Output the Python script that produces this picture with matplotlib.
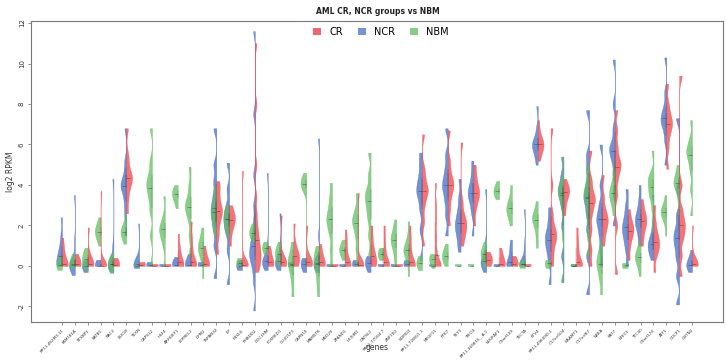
import numpy as np
import matplotlib
matplotlib.use("Agg")
import matplotlib.pyplot as plt
from matplotlib.patches import Patch

genes = ["RP11-462M3.11", "FAM181A", "STXBP1", "SATB1", "RAC2", "BLK18", "TEXN",
         "CAPS12", "HSF4", "ARHGEF1", "LEPREL2", "DPM2", "TSPAN32", "LIF", "FBXL6",
         "RHBDD2", "DOC1HM", "FOXRED1", "GLUD1P3", "CAPN10", "MAMSTR", "MED29",
         "ZFAND1", "HEXIM2", "GATSL2", "RP11-770G4.7", "ZNF700", "NOMO2",
         "RP11-72I8G1.1", "MEGF11", "PTK7", "TET3", "TRIO3", "RP11-369E15__A.1",
         "NDUFAF1", "C9orf139", "TECTA", "ETV4", "RP11-49609D.1", "C17orf104",
         "NAAMT1", "C17orf67", "NBEA", "KAT7", "EFEC1", "TTC40", "C9orf174",
         "ATF1", "CDCP1", "OBTN2"]

# log2 RPKM samples, one list per gene
cr = [
    [0, 0, 0, 0, 0.1, 0.3, 0.6, 0.9, 1.4],
    [0, 0, 0, 0.1, 0.2, 0.4, 0.6],
    [0, 0, 0, 0.1, 0.3, 0.6, 1.9],
    [0, 0, 0, 0, 0, 0.05, 0.2, 3.7],
    [0, 0, 0, 0.1, 0.2, 0.4],
    [2.6, 3.3, 3.8, 4.1, 4.3, 4.4, 4.6, 5.0, 5.5, 6.8],
    [0, 0, 0, 0.05, 0.1, 0.2],
    [0, 0, 0, 0.03, 0.06, 0.1],
    [0, 0, 0, 0.03, 0.06, 0.1],
    [0, 0, 0, 0, 0.2, 0.4, 0.7, 1.0, 1.6],
    [0, 0, 0, 0, 0.2, 0.5, 0.9, 1.4, 2.2],
    [0, 0, 0, 0.1, 0.3, 0.6, 1.0],
    [0.6, 1.5, 2.1, 2.5, 2.7, 2.9, 3.3, 3.8, 4.2],
    [1.0, 1.6, 2.0, 2.2, 2.3, 2.5, 2.7, 3.0],
    [0, 0, 0, 0.05, 0.1, 0.3, 4.7],
    [-0.3, 0, 0.2, 0.4, 0.6, 0.8, 1.0, 1.3, 1.6, 2.0, 2.6, 3.4, 5.0, 8.0, 11.0],
    [0, 0, 0, 0.2, 0.4, 0.7, 1.0],
    [0, 0, 0.1, 0.2, 0.3, 0.5, 2.5],
    [0, 0, 0.2, 0.4, 0.5, 0.6, 0.8, 1.2, 2.1],
    [0, 0, 0.1, 0.2, 0.3, 0.5, 2.0],
    [0, 0, 0, 0.2, 0.4, 0.7, 1.1],
    [0, 0, 0, 0.02, 0.05, 0.1],
    [0, 0, 0, 0, 0.2, 0.5, 0.9, 1.3, 1.8],
    [0, 0, 0, 0.05, 0.1, 0.3, 3.6],
    [0, 0, 0.2, 0.4, 0.6, 0.9, 1.4, 2.0],
    [0, 0, 0, 0, 0.2, 0.5, 0.9, 1.4, 2.0],
    [0, 0, 0, 0.02, 0.05, 0.1],
    [0, 0, 0, 0, 0.2, 0.5, 0.9, 1.4, 2.0],
    [1.0, 2.2, 3.0, 3.5, 3.7, 3.9, 4.3, 4.8, 6.5],
    [0, 0, 0, 0, 0.3, 0.8, 1.5, 2.3, 3.0, 4.1],
    [2.0, 2.8, 3.4, 3.8, 4.0, 4.2, 4.6, 5.2, 6.7],
    [1.0, 1.4, 1.7, 1.9, 2.1, 2.3, 2.6, 3.2, 6.1],
    [2.0, 2.8, 3.2, 3.5, 3.6, 3.8, 4.1, 4.5, 5.0],
    [0, 0.1, 0.2, 0.3, 0.4, 0.5, 0.7],
    [0, 0, 0, 0, 0.2, 0.4, 0.6, 0.9],
    [0, 0, 0, 0.1, 0.2, 0.3, 0.5],
    [0, 0, 0, 0.02, 0.05, 0.1],
    [5.2, 5.5, 5.8, 5.9, 6.0, 6.1, 6.3, 6.6, 7.2],
    [0, 0.5, 1.0, 1.3, 1.5, 1.7, 2.0, 2.6, 4.0, 6.8],
    [2.5, 3.0, 3.4, 3.6, 3.7, 3.8, 4.0, 4.3],
    [0, 0, 0, 0, 0.2, 0.5, 0.9, 1.3, 1.9],
    [0, 0.8, 1.8, 2.6, 3.1, 3.3, 3.6, 4.2, 5.7],
    [1.0, 1.5, 1.9, 2.1, 2.3, 2.5, 2.8, 3.4, 4.5],
    [-0.4, 2.0, 3.5, 4.3, 4.8, 5.0, 5.3, 5.9, 6.7, 7.7],
    [0.3, 1.0, 1.4, 1.7, 1.8, 2.0, 2.3, 2.8],
    [1.0, 1.5, 1.9, 2.1, 2.3, 2.5, 2.8, 3.3],
    [-0.3, 0.5, 0.8, 1.0, 1.2, 1.4, 1.7, 2.2, 3.0],
    [4.8, 5.8, 6.4, 6.8, 7.0, 7.2, 7.5, 8.0, 9.0],
    [-0.5, 0.5, 1.3, 1.7, 2.0, 2.3, 2.8, 4.0, 9.4],
    [0, 0, 0, 0.05, 0.1, 0.2, 0.5, 2.0],
]

ncr = [
    [0, 0, 0.1, 0.3, 0.5, 0.7, 1.0, 1.5, 2.4],
    [-0.45, -0.2, -0.1, 0, 0, 0.1, 0.2, 0.4, 1.2, 3.5],
    [-0.3, -0.1, 0, 0, 0.1, 0.3],
    [0, 0, 0, 0, 0.05, 0.1, 0.3],
    [-0.3, -0.1, 0, 0, 0.1, 0.2, 0.4, 1.0, 4.3],
    [1.5, 2.5, 3.1, 3.6, 3.9, 4.0, 4.2, 4.6, 5.2, 6.8],
    [-0.1, 0, 0, 0.05, 0.1, 0.2, 0.5, 2.1],
    [0, 0, 0, 0.05, 0.1, 0.2],
    [0, 0, 0, 0.03, 0.06, 0.1],
    [0, 0, 0, 0.1, 0.2, 0.45],
    [0, 0, 0, 0.1, 0.3, 0.6],
    [0, 0, 0.05, 0.1, 0.2],
    [-0.6, 1.0, 1.8, 2.3, 2.7, 3.0, 3.5, 4.2, 5.0, 6.8],
    [-0.9, 0.8, 1.6, 2.0, 2.3, 2.6, 3.0, 3.8, 5.1],
    [-0.2, -0.1, 0, 0, 0.1, 0.3],
    [-2.2, -0.8, -0.2, 0.2, 0.4, 0.6, 0.8, 1.0, 1.3, 1.6, 2.2, 3.0, 4.5, 7.5, 11.6],
    [-0.2, 0, 0.1, 0.2, 0.25, 0.3, 0.5, 1.0, 4.6],
    [-0.2, 0, 0.1, 0.2, 0.3, 0.4, 1.0, 2.6],
    [0, 0, 0.05, 0.1, 0.2],
    [-0.3, -0.1, 0, 0.1, 0.2, 0.3, 0.4],
    [-0.3, 0, 0, 0.1, 0.2, 0.4, 1.5, 6.3],
    [0, 0, 0, 0.02, 0.05, 0.1],
    [0, 0, 0, 0.02, 0.05, 0.1],
    [0, 0, 0.05, 0.1, 0.2, 0.3],
    [-0.3, 0, 0.1, 0.2, 0.3, 0.5],
    [0, 0, 0, 0.02, 0.05, 0.1],
    [0, 0, 0, 0.02, 0.05, 0.1],
    [0, 0, 0.05, 0.1, 0.2, 0.3],
    [0.3, 1.8, 2.8, 3.4, 3.7, 4.0, 4.4, 5.0, 5.6],
    [0, 0, 0, 0.02, 0.05, 0.1],
    [1.5, 2.5, 3.2, 3.7, 4.0, 4.3, 4.8, 5.5, 6.8],
    [0.7, 1.2, 1.6, 1.9, 2.1, 2.4, 2.8, 3.4, 4.3],
    [1.5, 2.6, 3.1, 3.4, 3.6, 3.8, 4.1, 4.6, 5.2],
    [-0.3, 0, 0.1, 0.2, 0.3, 0.5, 1.2, 3.8],
    [0, 0, 0, 0.02, 0.05, 0.1],
    [0, 0, 0, 0, 0.2, 0.4, 0.7, 1.0, 1.3],
    [0, 0, 0, 0.05, 0.1, 0.3, 1.0, 2.8],
    [5.0, 5.4, 5.7, 5.9, 6.0, 6.1, 6.3, 6.8, 7.9],
    [-0.9, 0.2, 0.7, 1.0, 1.3, 1.5, 1.8, 2.3, 2.9],
    [-0.8, 0.5, 2.0, 3.0, 3.5, 3.7, 4.0, 4.5, 5.4],
    [0, 0, 0, 0.02, 0.05, 0.1],
    [-1.4, 0.5, 1.8, 2.6, 3.2, 3.5, 4.0, 4.8, 5.5, 7.7],
    [0, 0.8, 1.5, 2.0, 2.3, 2.6, 3.1, 4.0, 6.0],
    [2.0, 3.6, 4.5, 5.2, 5.6, 5.8, 6.1, 6.8, 8.0, 10.2],
    [0, 0.8, 1.3, 1.6, 1.9, 2.1, 2.5, 3.0, 3.8],
    [1.0, 1.5, 1.9, 2.1, 2.3, 2.5, 2.8, 3.3, 4.0],
    [0.3, 0.6, 0.8, 1.0, 1.1, 1.3, 1.6, 2.2, 3.5],
    [5.0, 6.2, 6.8, 7.1, 7.3, 7.5, 7.9, 8.6, 10.3],
    [-1.9, -0.5, 0.4, 1.0, 1.4, 1.8, 2.5, 3.8, 7.3],
    [-0.3, -0.1, 0, 0, 0.1, 0.2, 0.4, 0.8],
]

nbm = [
    [-0.2, -0.05, 0, 0, 0.05, 0.1, 0.2, 0.5],
    [-0.1, 0, 0, 0.1, 0.2, 0.4, 0.6],
    [-0.2, 0, 0.1, 0.3, 0.4, 0.5, 0.7, 0.9],
    [1.0, 1.3, 1.5, 1.6, 1.7, 1.8, 1.9, 2.1, 2.4],
    [-0.35, -0.1, 0, 0.1, 0.2, 0.3, 0.6],
    [1.1, 1.4, 1.6, 1.7, 1.8, 2.0, 2.6],
    [0, 0, 0.02, 0.05, 0.1],
    [0, 1.5, 2.7, 3.3, 3.7, 4.0, 4.2, 4.6, 5.2, 6.8],
    [0, 1.0, 1.4, 1.6, 1.8, 1.9, 2.1, 2.5, 3.45],
    [2.85, 3.2, 3.4, 3.5, 3.6, 3.7, 3.8, 4.0],
    [0.5, 1.5, 2.3, 2.7, 2.9, 3.1, 3.4, 4.0, 4.9],
    [-0.6, 0.2, 0.5, 0.8, 0.9, 1.0, 1.2, 1.5, 1.9],
    [1.5, 2.0, 2.3, 2.6, 2.7, 3.0, 3.4, 4.0],
    [1.5, 1.8, 2.1, 2.3, 2.5, 2.7, 3.0],
    [0, 0, 0.1, 0.2, 0.3, 0.4],
    [1.2, 1.5, 1.6, 1.7, 1.8, 2.1],
    [0.6, 0.8, 0.9, 1.0, 1.2],
    [0, 0.3, 0.5, 0.6, 0.7, 0.9, 1.2],
    [-1.5, -0.8, -0.3, 0, 0.2, 0.4, 0.7, 1.2],
    [0, 3.7, 3.9, 4.0, 4.1, 4.2, 4.4, 4.6],
    [-1.5, -0.9, -0.4, 0, 0.2, 0.4, 0.7, 1.0],
    [0, 0.8, 1.6, 2.0, 2.3, 2.5, 2.9, 3.4, 4.1],
    [0.3, 0.6, 0.7, 0.8, 0.9, 1.0, 1.3],
    [0, 0.8, 1.5, 2.0, 2.2, 2.4, 2.8, 3.6],
    [0.5, 1.5, 2.3, 2.8, 3.2, 3.5, 3.8, 4.5, 5.6],
    [0.3, 0.5, 0.6, 0.7, 0.9],
    [0, 0.5, 0.9, 1.1, 1.3, 1.4, 1.6, 1.9, 2.3],
    [-0.5, 0.2, 0.5, 0.7, 0.8, 0.9, 1.1, 1.5, 2.2],
    [-0.2, 0, 0.1, 0.2, 0.3, 0.5],
    [-0.1, 0.1, 0.3, 0.4, 0.5, 0.6],
    [0, 0.2, 0.4, 0.5, 0.6, 0.8, 1.1],
    [0, 0, 0.02, 0.05, 0.1],
    [0, 0, 0.02, 0.05, 0.1],
    [0, 0.3, 0.5, 0.6, 0.7, 0.9, 1.2],
    [3.3, 3.5, 3.6, 3.7, 3.8, 3.9, 4.2],
    [2.0, 2.4, 2.6, 2.8, 2.9, 3.1, 3.4, 4.0],
    [-0.1, 0, 0.05, 0.1, 0.2, 0.3],
    [0.9, 1.5, 2.0, 2.2, 2.35, 2.5, 2.7, 3.2],
    [-0.1, 0, 0.1, 0.15, 0.2, 0.3],
    [-0.8, 1.5, 2.8, 3.3, 3.6, 3.7, 3.9, 4.2, 5.4],
    [0, 0, 0.02, 0.05, 0.1],
    [0.5, 1.5, 2.3, 3.0, 3.4, 3.6, 3.9, 4.4, 5.0],
    [-1.4, -0.7, -0.3, 0, 0.2, 0.4, 0.7, 1.2],
    [2.5, 3.0, 3.3, 3.5, 3.7, 3.9, 4.3, 5.0],
    [-0.1, 0, 0.05, 0.1, 0.15],
    [-0.5, 0, 0.2, 0.4, 0.5, 0.6, 0.8, 1.2],
    [1.8, 2.8, 3.4, 3.6, 3.9, 4.2, 4.3, 4.6, 5.7],
    [1.5, 2.2, 2.5, 2.6, 2.7, 2.8, 3.0, 3.5],
    [2.5, 3.3, 3.8, 4.0, 4.1, 4.2, 4.4, 4.7, 5.0],
    [2.5, 3.8, 4.7, 5.2, 5.5, 5.7, 5.9, 6.3, 7.2],
]

groups = ["CR", "NCR", "NBM"]
colors = {"CR": "#f0444c", "NCR": "#456cc6", "NBM": "#62be62"}
legend_colors = {"CR": "#ec6870", "NCR": "#7494d2", "NBM": "#88cc88"}

pos = np.arange(1, len(genes) + 1)
bw = 0.3


def fixed_bw(kde):
    return bw / np.std(kde.dataset, ddof=1)


fig = plt.figure(figsize=(7.26, 3.6), dpi=100)
ax = fig.add_axes([31 / 726, 1 - 322 / 360, 692 / 726, 301 / 360])


def half_violins(data, side, color):
    parts = ax.violinplot(data, positions=pos, widths=0.9, showextrema=False,
                          bw_method=fixed_bw, points=150)
    for body, p in zip(parts["bodies"], pos):
        v = body.get_paths()[0].vertices
        if side == "left":
            v[:, 0] = np.minimum(v[:, 0], p)
        else:
            v[:, 0] = np.maximum(v[:, 0], p)
        body.set_facecolor(color)
        body.set_edgecolor(color)
        body.set_linewidth(0.3)
        body.set_alpha(0.75)
    # median tick and thin quartile line like vioplot
    med = [np.median(d) for d in data]
    q1 = [np.percentile(d, 25) for d in data]
    q3 = [np.percentile(d, 75) for d in data]
    if side == "left":
        ax.hlines(med, pos - 0.3, pos, color="#333344", lw=0.4, alpha=0.7)
    else:
        ax.hlines(med, pos, pos + 0.3, color="#442222", lw=0.4, alpha=0.7)
    ax.vlines(pos, q1, q3, color="#333333", lw=0.35, alpha=0.5)


half_violins(ncr, "left", colors["NCR"])
half_violins(nbm, "left", colors["NBM"])
half_violins(cr, "right", colors["CR"])

ax.set_xlim(1 - 2.41, len(genes) + 2.41)
ax.set_ylim(-2.77, 12.1)
ax.set_xticks(pos)
ax.set_xticklabels(genes, rotation=45, ha="right", rotation_mode="anchor",
                   fontsize=3.0, color="#333333")
ax.set_yticks(np.arange(-2, 13, 2))
ax.set_yticklabels([str(v) for v in range(-2, 13, 2)], rotation=90,
                   va="center", fontsize=5, color="#333333")
ax.tick_params(axis="both", length=2.5, width=0.5, color="#666666", pad=2)
for s in ax.spines.values():
    s.set_color("#777777")
    s.set_linewidth(0.8)

ax.set_ylabel("log2 RPKM", fontsize=5.5, color="#333333", labelpad=3)
fig.text(377 / 726, 1 - 348 / 360, "genes", ha="center", va="center",
         fontsize=5.5, color="#333333")
fig.text(378 / 726, 1 - 12 / 360, "AML CR, NCR groups vs NBM", ha="center",
         va="center", fontsize=5.5, fontweight="bold", color="#222222")

handles = [Patch(facecolor=legend_colors[g], edgecolor="none", label=g) for g in groups]
ax.legend(handles=handles, loc="center", bbox_to_anchor=((381 - 31) / 692, 1 - 11 / 301),
          ncol=3, frameon=False, fontsize=7, handlelength=0.8, handleheight=0.8,
          handletextpad=0.8, columnspacing=1.6)

fig.savefig("out.png", dpi=100)
